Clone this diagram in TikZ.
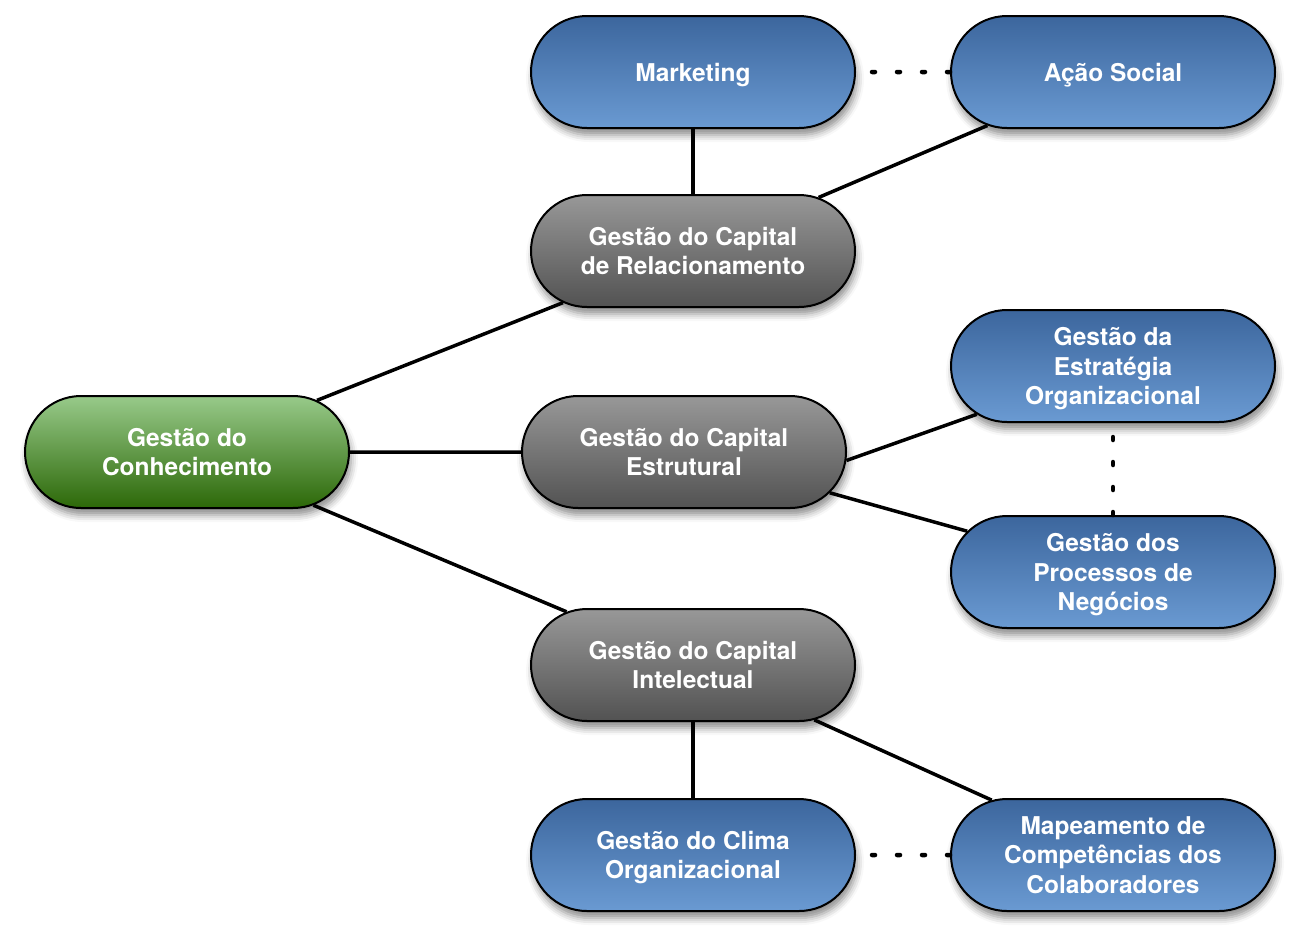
\documentclass[tikz,border=0pt]{standalone}
\usepackage{fontspec}
\setmainfont{TeX Gyre Heros}
\usetikzlibrary{shapes.misc,shadows.blur}
\definecolor{bluetop}{RGB}{60,102,157}
\definecolor{bluebot}{RGB}{106,154,210}
\definecolor{graytop}{RGB}{152,152,152}
\definecolor{graybot}{RGB}{82,82,82}
\definecolor{greentop}{RGB}{152,202,138}
\definecolor{greenbot}{RGB}{44,104,8}
\tikzset{
  pill/.style={rounded rectangle, draw=black, line width=2pt,
    minimum width=312pt, minimum height=112pt, inner xsep=-6pt, inner ysep=0pt,
    align=center, text=white, font=\fontsize{24.5}{29.5}\selectfont\bfseries,
    text depth=0pt,
    blur shadow={shadow xshift=2pt, shadow yshift=-7pt, shadow blur radius=7pt, shadow opacity=45}},
  bluepill/.style={pill, top color=bluetop, bottom color=bluebot},
  graypill/.style={pill, top color=graytop, bottom color=graybot},
  greenpill/.style={pill, top color=greentop, bottom color=greenbot},
  link/.style={line width=3.5pt, black},
  dotlink/.style={line width=4.5pt, black, line cap=round, dash pattern=on 3pt off 22pt}
}
\begin{document}
\begin{tikzpicture}[x=1pt,y=-1pt]
\useasboundingbox (0,0) rectangle (1300,943);
\node[bluepill] (mkt) at (693,72) {Marketing};
\node[bluepill] (acao) at (1113,72) {Ação Social};
\node[graypill] (rel) at (693,251) {Gestão do Capital\\de Relacionamento};
\node[greenpill] (con) at (187,452) {Gestão do\\Conhecimento};
\node[graypill] (estrut) at (684,452) {Gestão do Capital\\Estrutural};
\node[bluepill] (estrat) at (1113,366) {Gestão da\\Estratégia\\Organizacional};
\node[bluepill] (proc) at (1113,572) {Gestão dos\\Processos de\\Negócios};
\node[graypill] (intel) at (693,665) {Gestão do Capital\\Intelectual};
\node[bluepill] (clima) at (693,855) {Gestão do Clima\\Organizacional};
\node[bluepill] (mapa) at (1113,855) {Mapeamento de\\Competências dos\\Colaboradores};
\draw[link] (con) -- (rel);
\draw[link] (con) -- (estrut);
\draw[link] (con) -- (intel);
\draw[link] (mkt) -- (rel);
\draw[link] (rel) -- (acao);
\draw[link] (estrut.-3.5) -- (estrat);
\draw[link] (estrut) -- (proc);
\draw[link] (intel) -- (clima);
\draw[link] (intel) -- (mapa);
\draw[dotlink] (acao) -- (mkt);
\draw[dotlink] (proc) -- (estrat);
\draw[dotlink] (mapa) -- (clima);
\end{tikzpicture}
\end{document}
